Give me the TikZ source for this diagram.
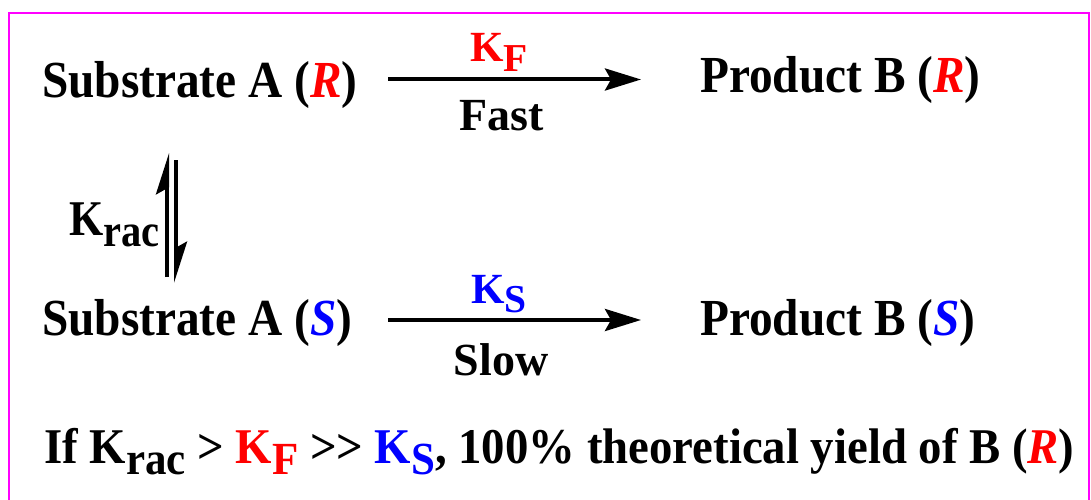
\documentclass[tikz,border=0pt]{standalone}
\usepackage{fontspec}
\setmainfont{Liberation Serif}
\usetikzlibrary{arrows.meta}
\definecolor{mag}{RGB}{255,0,255}
\definecolor{rr}{RGB}{255,0,0}
\definecolor{bb}{RGB}{0,0,255}
\newcommand{\subx}[1]{\raisebox{-0.22em}{\scalebox{0.92}{#1}}}
\newcommand{\Rr}{\textcolor{rr}{\textit{R}}}
\newcommand{\Ss}{\textcolor{bb}{\textit{S}}}
\tikzset{
  txt/.style={inner sep=0pt, font=\fontsize{52}{60}\selectfont\bfseries, xscale=0.91},
  kr/.style={inner sep=0pt, font=\fontsize{50}{58}\selectfont\bfseries, xscale=0.88},
  lbl/.style={inner sep=0pt, font=\fontsize{43}{50}\selectfont\bfseries},
  cond/.style={inner sep=0pt, font=\fontsize{46}{54}\selectfont\bfseries},
  note/.style={inner sep=0pt, font=\fontsize{50}{58}\selectfont\bfseries, xscale=0.935},
  rxn/.style={line width=4pt, -{Stealth[length=36pt,width=22pt,inset=6pt]}},
  harp/.style={line width=4pt, -{Stealth[length=35pt,width=22pt,inset=6pt,left]}},
  frame/.style={draw=mag, line width=2.5pt}
}
\begin{document}
\begin{tikzpicture}[x=1pt,y=-1pt]
\useasboundingbox (0,0) rectangle (1091,500);
\draw[frame] (9,505) -- (9,13) -- (1089,13) -- (1089,505);
\node[txt, anchor=base west] (sa) at (42,98) {Substrate A (\Rr)};
\node[txt, anchor=base west] (pb) at (700,93) {Product B (\Rr)};
\node[txt, anchor=base west] (ss) at (42,335) {Substrate A (\Ss)};
\node[txt, anchor=base west] (ps) at (700,335) {Product B (\Ss)};
\node[lbl, anchor=base, text=rr] (kf) at (499,62) {K\subx{F}};
\node[cond, anchor=base] (fast) at (502,130) {Fast};
\node[lbl, anchor=base, text=bb] (ks) at (499,303) {K\subx{S}};
\node[cond, anchor=base] (slow) at (501,375) {Slow};
\node[kr, anchor=base west] (krac) at (69,235) {K\subx{rac}};
\node[note, anchor=base west] (nt) at (44,463) {If K\subx{rac} > \textcolor{rr}{K\subx{F}} {>}{>} \textcolor{bb}{K\subx{S}}, 100\% theoretical yield of B (\Rr)};
\coordinate (a1) at (388,79.5);
\coordinate (a2) at (641,79.5);
\coordinate (b1) at (388,320);
\coordinate (b2) at (641,320);
\coordinate (h1) at (167,277);
\coordinate (h2) at (167,153);
\coordinate (h3) at (176,160);
\coordinate (h4) at (176,283);
\draw[rxn] (a1) -- (a2);
\draw[rxn] (b1) -- (b2);
\draw[harp] (h1) -- (h2);
\draw[harp] (h3) -- (h4);
\end{tikzpicture}
\end{document}
